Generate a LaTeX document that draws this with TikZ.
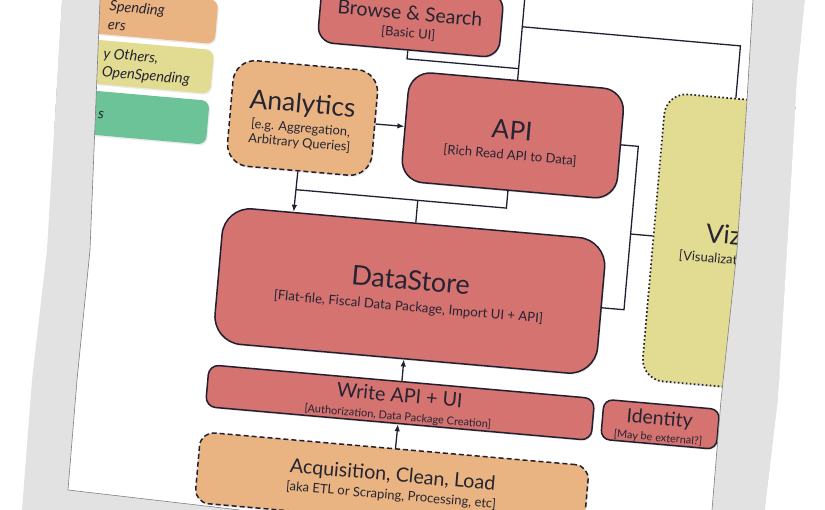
\documentclass[tikz,border=0pt]{standalone}
\usepackage{fontspec}
\setmainfont{Lato}
\usetikzlibrary{arrows.meta,calc,shadows}

\definecolor{edge}{RGB}{34,32,48}
\definecolor{ink}{RGB}{38,36,50}
\definecolor{corered}{RGB}{213,115,113}
\definecolor{extorange}{RGB}{233,180,130}
\definecolor{vizyellow}{RGB}{226,219,146}
\definecolor{keygreen}{RGB}{108,195,152}
\definecolor{bezel}{RGB}{226,226,226}

\tikzset{
  block/.style={draw=edge, line width=1.5pt, inner sep=0pt,
    drop shadow={shadow xshift=1pt, shadow yshift=-1.5pt, opacity=0.18}},
  core/.style={block, fill=corered},
  extern/.style={block, fill=extorange, dash pattern=on 5pt off 3pt},
  vizbox/.style={block, fill=vizyellow, dash pattern=on 1.6pt off 2.4pt, line width=1.7pt},
  keybox/.style={minimum width=184pt, minimum height=44pt, rounded corners=8pt,
    drop shadow={shadow xshift=1pt, shadow yshift=-1.5pt, opacity=0.15}},
  keytext/.style={anchor=west, align=left, text=ink, inner sep=0pt,
    font=\fontsize{14.5}{18.5}\selectfont\itshape},
  headline/.style={text=ink, inner sep=0pt, text depth=0pt},
  detail/.style={text=ink, inner sep=0pt, align=center},
  wire/.style={draw=edge, line width=1.3pt},
  feed/.style={wire, -{Latex[length=7pt,width=5.5pt]}},
  bezeledge/.style={draw=black!50, line width=0.6pt}
}

\begin{document}
\begin{tikzpicture}[x=1pt, y=-1pt]
\useasboundingbox (0,0) rectangle (825,510);
\fill[white] (0,0) rectangle (825,510);

\begin{scope}[shift={(410,289)}, rotate=-5, transform shape]
% legend (mostly behind the bezel)
\node[keybox, fill=extorange] (keyown) at (-308,-249) {};
\node[keybox, fill=vizyellow] (keyothers) at (-308,-199) {};
\node[keybox, fill=keygreen] (keydone) at (-308,-148) {};
\node[keytext] (keyownT) at (-324,-247) {Spending\\ers};
\node[keytext] (keyothersT) at (-326,-198) {y Others,\\OpenSpending};
\node[keytext] (keydoneT) at (-326,-146) {s};

% blocks
\node[core, minimum width=182pt, minimum height=64pt, rounded corners=16pt] (browse) at (-23,-270) {};
\node[extern, minimum width=145pt, minimum height=106pt, rounded corners=22pt] (analytics) at (-122,-161) {};
\node[core, minimum width=216pt, minimum height=110pt, rounded corners=22pt] (api) at (89,-162) {};
\node[vizbox, minimum width=140pt, minimum height=288pt, rounded corners=22pt] (viz) at (308,-74) {};
\node[core, minimum width=384pt, minimum height=136pt, rounded corners=28pt] (store) at (0,2) {};
\node[core, minimum width=387pt, minimum height=42pt, rounded corners=10pt] (writeapi) at (0,114) {};
\node[core, minimum width=116pt, minimum height=40pt, rounded corners=9pt] (identity) at (261,113) {};
\node[extern, minimum width=390pt, minimum height=71pt, rounded corners=14pt] (acquire) at (-1,196) {};

% texts of the blocks
\node[headline, font=\fontsize{19.5}{20}\selectfont] (browseT) at (-24,-275) {Browse \& Search};
\node[detail, font=\fontsize{13}{14}\selectfont] (browseS) at (-24,-254.5) {[Basic UI]};
\node[headline, font=\fontsize{26.5}{27}\selectfont] (analyticsT) at (-123,-176) {Analytics};
\node[detail, font=\fontsize{12.9}{15}\selectfont] (analyticsS) at (-123,-143) {[e.g. Aggregation,\\Arbitrary Queries]};
\node[headline, font=\fontsize{26}{27}\selectfont] (apiT) at (88,-167) {API};
\node[detail, font=\fontsize{13}{14}\selectfont] (apiS) at (88,-141.5) {[Rich Read API to Data]};
\node[headline, font=\fontsize{26}{27}\selectfont] (vizT) at (308,-82) {Viz};
\node[detail, font=\fontsize{13}{14}\selectfont] (vizS) at (308,-56.5) {[Visualizations]};
\node[headline, font=\fontsize{27}{28}\selectfont] (storeT) at (0,-9) {DataStore};
\node[detail, font=\fontsize{13.2}{14}\selectfont] (storeS) at (0,18.5) {[Flat-file, Fiscal Data Package, Import UI + API]};
\node[headline, font=\fontsize{19.7}{20}\selectfont] (writeapiT) at (-1,106.5) {Write API + UI};
\node[detail, font=\fontsize{11}{12}\selectfont] (writeapiS) at (-1,128.5) {[Authorization, Data Package Creation]};
\node[headline, font=\fontsize{19.5}{20}\selectfont] (identityT) at (260,106.5) {Identity};
\node[detail, font=\fontsize{10.9}{12}\selectfont] (identityS) at (260,127) {[May be external?]};
\node[headline, font=\fontsize{19.7}{20}\selectfont] (acquireT) at (-1,186) {Acquisition, Clean, Load};
\node[detail, font=\fontsize{13}{14}\selectfont] (acquireS) at (-1,207.5) {[aka ETL or Scraping, Processing, etc]};

% bends of the connectors
\coordinate (upTop) at (89,-330);
\coordinate (upMid) at (89,-229);
\coordinate (upHi) at (89,-271);
\coordinate (browseDrop) at (-23,-229);
\coordinate (vizUp) at (308,-271);
\coordinate (busR) at (89,-89);
\coordinate (busL) at (-122,-89);
\coordinate (busM) at (0,-89);
\coordinate (sideTop) at (215,-162);
\coordinate (sideViz) at (215,-74);
\coordinate (sideLow) at (215,2);

\draw[feed] (analytics) -- (api);
\draw[feed] (analytics.south) -- ($(store.north west)!0.182!(store.north east)$);
\draw[wire] (api.south) -- (busR) -- (busL);
\draw[wire] (busM) -- (store.north);
\draw[wire] (api.north) -- (upTop);
\draw[wire] (browse.south) -- (browseDrop) -- (upMid);
\draw[wire] (upHi) -- (vizUp) -- (viz.north);
\draw[wire] (api.east) -- (sideTop) -- (sideLow) -- (store.east);
\draw[wire] (sideViz) -- (viz.west);
\draw[feed] (writeapi) -- (store);
\draw[feed] (acquire) -- (writeapi);
\end{scope}

% bezel of the screen
\fill[white] (-5,-5) -- (63,-5) -- (62,0) -- (47,250) -- (32,380) -- (22,510) -- (22,515) -- (-5,515) -- cycle;
\fill[bezel] (63,-5) -- (101,-5) -- (100,0) -- (90,250) -- (77,380) -- (68,490) -- (240,510)
  -- (240,515) -- (22,515) -- (22,510) -- (32,380) -- (47,250) -- (62,0) -- cycle;
\fill[bezel] (753,-5) -- (806,-5) -- (805,0) -- (797,80) -- (787,250) -- (778,400) -- (765,510)
  -- (765,515) -- (712,515) -- (712,510) -- (721,400) -- (737,250) -- (747,100) -- (753,0) -- cycle;
\fill[white] (806,-5) -- (830,-5) -- (830,515) -- (765,515) -- (765,510) -- (778,400) -- (787,250)
  -- (797,80) -- (805,0) -- cycle;
\draw[bezeledge] (100,0) -- (90,250) -- (77,380) -- (68,490) -- (240,510);
\draw[bezeledge] (753,0) -- (747,100) -- (737,250) -- (721,400) -- (712,510);
\end{tikzpicture}
\end{document}
